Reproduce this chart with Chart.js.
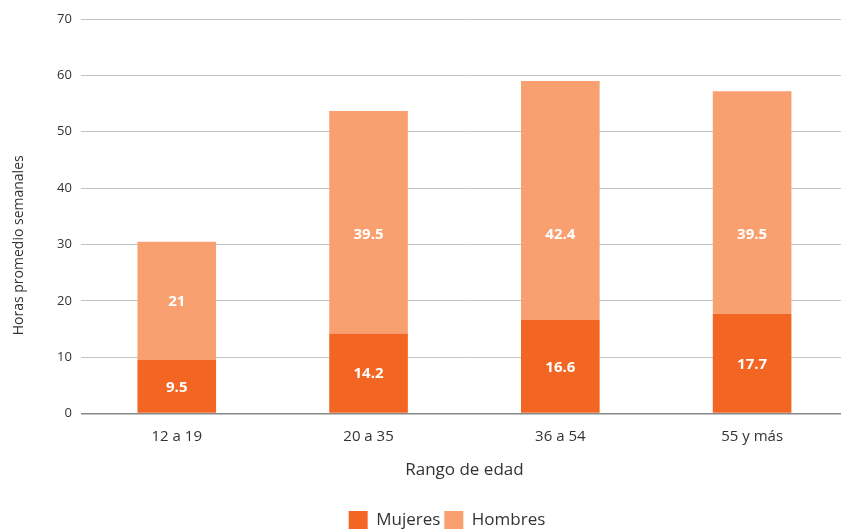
<!DOCTYPE html>
<html>
<head>
<meta charset="utf-8">
<script src="https://cdn.jsdelivr.net/npm/chart.js@4/dist/chart.umd.min.js"></script>
<style>
  html, body { margin: 0; padding: 0; background: #fff; overflow: hidden; }
  #contenedor { width: 848px; height: 529px; }
</style>
</head>
<body>
<div id="contenedor"><canvas id="grafico"></canvas></div>
<script>
const rangosEdad = ['12 a 19', '20 a 35', '36 a 54', '55 y más'];
const horasMujeres = [9.5, 14.2, 16.6, 17.7];
const horasHombres = [21, 39.5, 42.4, 39.5];
const marcasEjeY = [0, 10, 20, 30, 40, 50, 60, 70];
const tituloEjeY = 'Horas promedio semanales';
// las etiquetas de la parte alta no suben mas arriba de este valor
const topeEtiquetas = 31.9;

const colorMujeres = '#f26522';
const colorHombres = '#f9a070';
const colorTexto = '#333333';
const fuente = '"Open Sans", "Noto Sans", sans-serif';

// etiquetas blancas dentro de cada segmento
const etiquetasValores = {
    id: 'etiquetasValores',
    afterDatasetsDraw(chart) {
        const ctx = chart.ctx;
        const ejeY = chart.scales.y;
        ctx.save();
        ctx.fillStyle = '#ffffff';
        ctx.font = 'bold 15px ' + fuente;
        ctx.textAlign = 'center';
        ctx.textBaseline = 'middle';
        chart.data.datasets.forEach((dataset, i) => {
            chart.getDatasetMeta(i).data.forEach((barra, j) => {
                let centro = barra.getCenterPoint();
                let y = Math.max(centro.y, ejeY.getPixelForValue(topeEtiquetas));
                ctx.fillText(String(dataset.data[j]), centro.x, y + 1);
            });
        });
        ctx.restore();
    }
};

// titulo del eje y, un poco por debajo del centro como en el original
const tituloVertical = {
    id: 'tituloVertical',
    afterDraw(chart) {
        const ctx = chart.ctx;
        const area = chart.chartArea;
        ctx.save();
        ctx.translate(19, (area.top + area.bottom) / 2 + 29);
        ctx.rotate(-Math.PI / 2);
        ctx.fillStyle = colorTexto;
        ctx.font = '14px ' + fuente;
        ctx.textAlign = 'center';
        ctx.textBaseline = 'middle';
        ctx.fillText(tituloEjeY, 0, 0);
        ctx.restore();
    }
};

// la leyenda del original esta algo a la izquierda
const moverLeyenda = {
    id: 'moverLeyenda',
    afterLayout(chart) {
        chart.legend.left -= 1;
        chart.legend.right -= 1;
    }
};

let elementoDOM = document.getElementById('grafico').getContext('2d');
let grafico = new Chart(elementoDOM, {
    type: 'bar',
    data: {
        labels: rangosEdad,
        datasets: [{
            label: 'Mujeres',
            data: horasMujeres,
            backgroundColor: colorMujeres,
            borderWidth: 0
        }, {
            label: 'Hombres',
            data: horasHombres,
            backgroundColor: colorHombres,
            borderWidth: 0
        }]
    },
    options: {
        responsive: true,
        maintainAspectRatio: false,
        animation: false,
        datasets: {
            bar: { categoryPercentage: 1, barPercentage: 0.41 }
        },
        layout: {
            padding: { top: 19, left: 48, right: 0, bottom: -11 }
        },
        plugins: {
            tooltip: { enabled: false },
            legend: {
                position: 'bottom',
                labels: {
                    boxWidth: 19,
                    boxHeight: 19,
                    padding: 4,
                    color: colorTexto,
                    font: { family: fuente, size: 17 }
                }
            }
        },
        scales: {
            x: {
                stacked: true,
                grid: { display: false, drawTicks: false },
                border: { display: false },
                ticks: {
                    color: colorTexto,
                    padding: 14,
                    font: { family: fuente, size: 15 }
                },
                title: {
                    display: true,
                    text: 'Rango de edad',
                    color: colorTexto,
                    padding: { top: 0, bottom: 27 },
                    font: { family: fuente, size: 17 }
                }
            },
            y: {
                stacked: true,
                min: 0,
                max: 70,
                afterBuildTicks: (eje) => {
                    eje.ticks = marcasEjeY.map(v => ({ value: v }));
                },
                grid: {
                    drawTicks: false,
                    color: (c) => c.tick && c.tick.value === 0 ? '#888888' : '#c4c4c4',
                    lineWidth: (c) => c.tick && c.tick.value === 0 ? 1.5 : 1
                },
                border: { display: false },
                ticks: {
                    color: colorTexto,
                    padding: 9,
                    font: { family: fuente, size: 13 }
                }
            }
        }
    },
    plugins: [etiquetasValores, tituloVertical, moverLeyenda]
});
</script>
</body>
</html>
